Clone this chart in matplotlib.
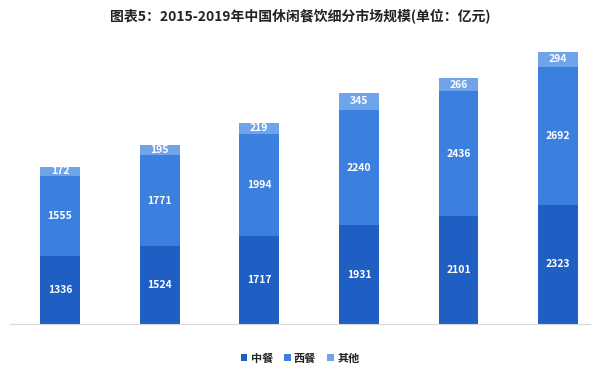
import matplotlib
matplotlib.use("Agg")
import matplotlib.pyplot as plt
import numpy as np

plt.rcParams['font.family'] = ['Noto Sans CJK SC', 'DejaVu Sans']

years = ["2015", "2016", "2017", "2018", "2019E", "2020E"]
chinese = [1336, 1524, 1717, 1931, 2101, 2323]
western = [1555, 1771, 1994, 2240, 2436, 2692]
other = [172, 195, 219, 345, 266, 294]
series_names = ["中餐", "西餐", "其他"]
colors = ["#1F5FC3", "#3B80DE", "#6FA3EA"]
title = "图表5：2015-2019年中国休闲餐饮细分市场规模(单位：亿元)"

W, H = 600, 371
fig = plt.figure(figsize=(W / 100, H / 100), dpi=100)
ax = fig.add_axes([10 / W, 47 / H, 580 / W, 287 / H])

x = np.arange(len(years))
bottom = np.zeros(len(years))
for vals, name, c in zip([chinese, western, other], series_names, colors):
    vals = np.array(vals, dtype=float)
    ax.bar(x, vals, bottom=bottom, width=0.40, color=c, label=name)
    for xi, b, v in zip(x, bottom, vals):
        ax.text(xi, b + v / 2, f"{int(v)}", ha="center", va="center",
                color="white", fontsize=7.5, fontweight="bold")
    bottom += vals

ax.set_xlim(-0.502, 5.32)
ax.set_ylim(0, 5600)
for s in ["top", "right", "left"]:
    ax.spines[s].set_visible(False)
ax.spines["bottom"].set_color("#D9D9D9")
ax.set_xticks([])
ax.set_yticks([])

fig.text(0.5, 1 - 16 / H, title, ha="center", va="center", fontsize=10,
         fontweight="bold", color="#222222")

leg = fig.legend(loc="center", bbox_to_anchor=(0.5, 1 - 358 / H), ncol=3,
                 frameon=False, fontsize=8, handlelength=0.6, handleheight=0.6,
                 handletextpad=0.3, columnspacing=1.0)
for t in leg.get_texts():
    t.set_fontweight("bold")
    t.set_color("#222222")

fig.savefig("out.png", dpi=100)
